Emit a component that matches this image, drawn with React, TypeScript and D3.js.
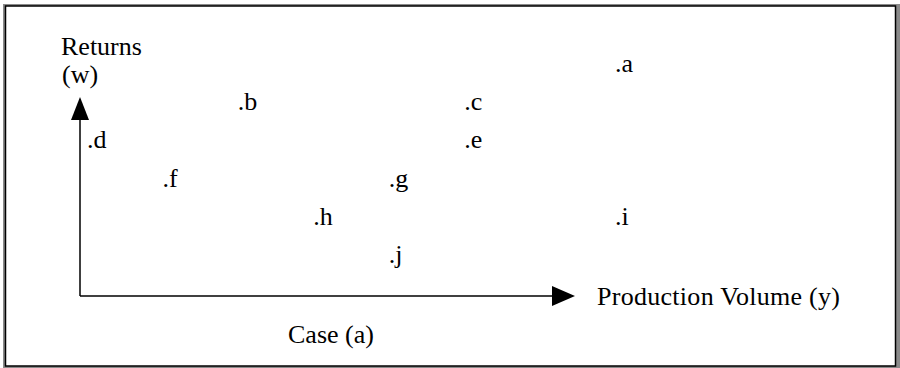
import React from "react";
import * as d3 from "d3";

// case (a): each point is a letter placed at (production volume, returns)
const labels = ["a", "b", "c", "d", "e", "f", "g", "h", "i", "j"];
const volume = [8, 3, 6, 1, 6, 2, 5, 4, 8, 5];
const returns = [6, 5, 5, 4, 4, 3, 3, 2, 2, 1];

const axisLabels = ["Returns", "(w)"];
const xAxisLabel = "Production Volume (y)";
const caption = "Case (a)";

const width = 900;
const height = 368;
const font = "'Liberation Serif', 'Times New Roman', Times, serif";

export default function App() {
  const x = d3.scaleLinear().domain([1, 8]).range([87, 615]);
  const y = d3.scaleLinear().domain([1, 6]).range([263, 72]);

  const origin = { x: 80, y: 296 };
  const yTip = 97;
  const xTip = 575;

  const points = labels.map((l, i) => ({ label: l, v: volume[i], r: returns[i] }));

  return (
    <div style={{ position: "absolute", left: 0, top: 0 }}>
      <svg width={width} height={height} viewBox={`0 0 ${width} ${height}`} style={{ display: "block" }}>
        <rect x={0} y={0} width={width} height={height} fill="#fff" />
        {/* frame with grey edge / shadow */}
        <rect x={3} y={4} width={897} height={364} fill="#8a8a8a" />
        <rect x={5.5} y={6} width={890} height={360} fill="#fff" stroke="#000" strokeWidth={1.5} />

        {/* axes */}
        <line x1={origin.x} y1={origin.y} x2={origin.x} y2={yTip + 18} stroke="#000" strokeWidth={1.5} />
        <line x1={origin.x} y1={origin.y} x2={xTip - 18} y2={origin.y} stroke="#000" strokeWidth={1.5} />
        <path d={`M${origin.x},${yTip} L${origin.x + 9},${yTip + 23} L${origin.x - 9},${yTip + 23} Z`} fill="#000" />
        <path d={`M${xTip},${origin.y} L${xTip - 23},${origin.y - 10} L${xTip - 23},${origin.y + 10} Z`} fill="#000" />

        <g fontFamily={font} fontSize={26} fill="#000">
          <text x={61} y={55}>{axisLabels[0]}</text>
          <text x={62} y={83}>{axisLabels[1]}</text>
          <text x={597} y={305} textLength={243}>{xAxisLabel}</text>
          <text x={288} y={343}>{caption}</text>
          {points.map((p) => (
            <text key={p.label} x={x(p.v)} y={y(p.r)}>
              {"." + p.label}
            </text>
          ))}
        </g>
      </svg>
    </div>
  );
}
